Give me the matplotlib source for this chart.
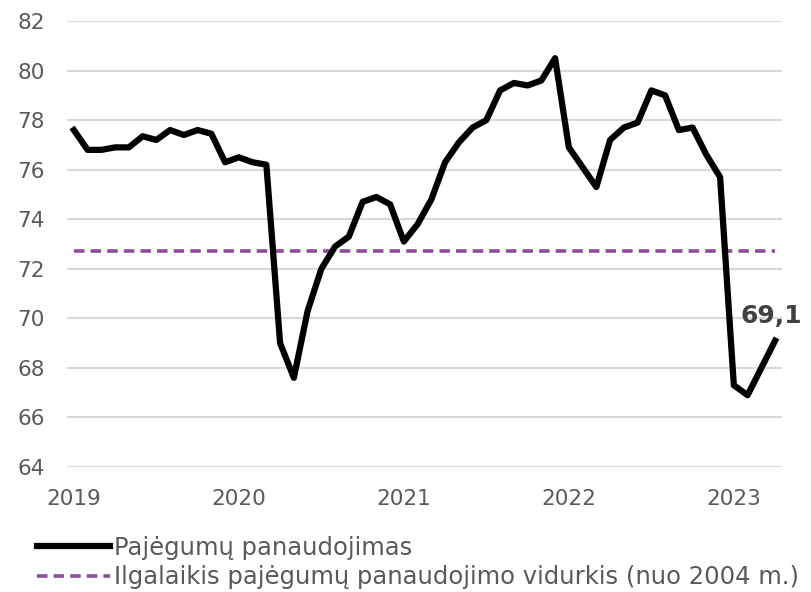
import matplotlib
matplotlib.use('Agg')
import matplotlib.pyplot as plt

# monthly capacity utilisation, Jan 2019 - Apr 2023
values = [77.6, 76.8, 76.8, 76.9, 76.9, 77.35, 77.2, 77.6, 77.4, 77.6, 77.45, 76.3,
          76.5, 76.3, 76.2, 69.0, 67.6, 70.3, 72.0, 72.9, 73.3, 74.7, 74.9, 74.6,
          73.1, 73.8, 74.8, 76.3, 77.1, 77.7, 78.0, 79.2, 79.5, 79.4, 79.6, 80.5,
          76.9, 76.1, 75.3, 77.2, 77.7, 77.9, 79.2, 79.0, 77.6, 77.7, 76.6, 75.7,
          67.3, 66.9, 68.0, 69.1]
long_term_avg = 72.7
year_labels = ['2019', '2020', '2021', '2022', '2023']
y_ticks = [64, 66, 68, 70, 72, 74, 76, 78, 80, 82]

label_main = 'Pajėgumų panaudojimas'
label_avg = 'Ilgalaikis pajėgumų panaudojimo vidurkis (nuo 2004 m.)'

plt.rcParams['font.family'] = 'DejaVu Sans'
fig = plt.figure(figsize=(8.11, 5.92), dpi=100)
ax = fig.add_axes([0.0826, 0.2111, 0.8816, 0.7534])

x = list(range(len(values)))
ax.plot(x, [long_term_avg] * len(values), color='#8e4b9c', lw=2.6,
        dashes=(2.9, 1.7), label=label_avg, zorder=2)
ax.plot(x, values, color='black', lw=4.5, solid_joinstyle='round',
        label=label_main, zorder=3)

ax.annotate(f'{values[-1]:.1f}'.replace('.', ','), (x[-1], values[-1]),
            xytext=(-25, 9), textcoords='offset points', ha='left', va='bottom',
            fontsize=18, fontweight='bold', color='#404040')

ax.set_xlim(-0.5, len(values) - 0.5)
ax.set_ylim(64, 82)
ax.set_yticks(y_ticks)
ax.set_xticks([i * 12 for i in range(len(year_labels))])
ax.set_xticklabels(year_labels)
ax.grid(axis='y', color='#d9d9d9', lw=1.5)
ax.set_axisbelow(True)
for s in ax.spines.values():
    s.set_visible(False)
ax.tick_params(length=0, labelsize=15.5, colors='#595959')
ax.tick_params(axis='y', pad=16)
ax.tick_params(axis='x', pad=16)

h, l = ax.get_legend_handles_labels()
leg = fig.legend(h[::-1], l[::-1], loc='upper left', bbox_to_anchor=(0.046, 0.095),
                 frameon=False, fontsize=17.5, handlelength=3.0, handletextpad=0.15,
                 labelspacing=0.22, borderaxespad=0, borderpad=0)
for t in leg.get_texts():
    t.set_color('#595959')

fig.savefig('out.png', dpi=100)
